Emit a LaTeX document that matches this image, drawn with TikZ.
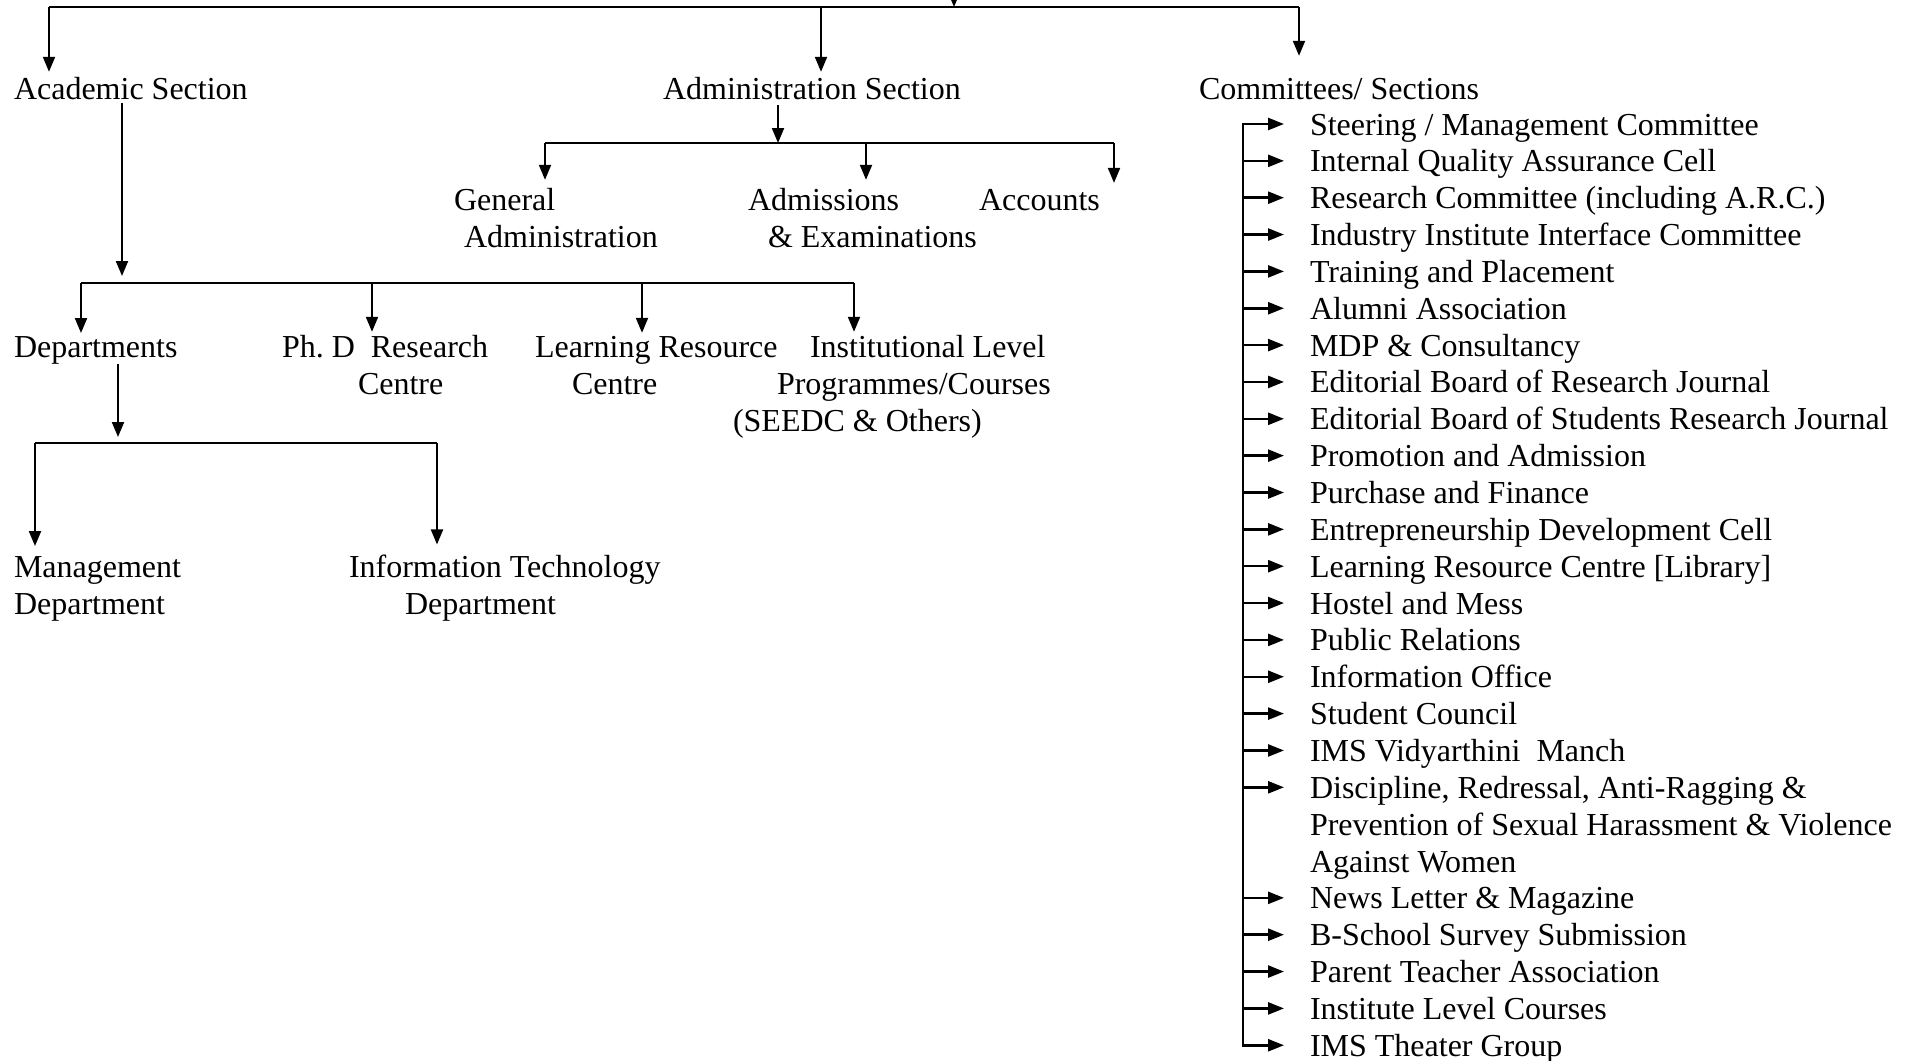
\documentclass[tikz,border=0pt]{standalone}
\usepackage{fontspec}
\setmainfont{Liberation Serif}
\usetikzlibrary{arrows.meta,calc}
\begin{document}
\begin{tikzpicture}[x=1pt,y=-1pt,
  lbl/.style={inner sep=0pt, outer sep=0pt, anchor=base west, font=\fontsize{32}{37}\selectfont\frenchspacing},
  ln/.style={line width=2pt},
  arr/.style={line width=2pt, -{Triangle[length=15pt,width=12pt]}},
  larr/.style={line width=2.5pt, -{Triangle[length=16pt,width=12pt]}}]
\useasboundingbox (0,0) rectangle (1913,1060);
% ---- nodes
\node[lbl] (acad) at (14,99) {Academic Section};
\node[lbl] (admin) at (663,99) {Administration Section};
\node[lbl] (comm) at (1199,99) {Committees/ Sections};
\node[lbl] (genadm) at (454,210) {\vtop{\hbox{General}\hbox{\hspace{10pt}Administration}}};
\node[lbl] (admexam) at (748,210) {\vtop{\hbox{Admissions}\hbox{\hspace{20pt}\& Examinations}}};
\node[lbl] (acct) at (979,210) {Accounts};
\node[lbl] (dept) at (14,357) {Departments};
\node[lbl] (phd) at (282,357) {\vtop{\hbox{Ph. D\ \ Research}\hbox{\hspace{76pt}Centre}}};
\node[lbl] (lrc) at (535,357) {\vtop{\hbox{Learning Resource}\hbox{\hspace{37pt}Centre}}};
\node[lbl] (inst) at (733,357) {\vtop{\hbox{\hspace{77pt}Institutional Level}\hbox{\hspace{44pt}Programmes/Courses}\hbox{(SEEDC \& Others)}}};
\node[lbl] (mgmt) at (14,577) {\vtop{\hbox{Management}\hbox{Department}}};
\node[lbl] (itd) at (349,577) {\vtop{\hbox{Information Technology}\hbox{\hspace{56pt}Department}}};
% committees list
\node[lbl] (c0) at (1310,{135+36.85*0}) {Steering / Management Committee};
\node[lbl] (c1) at (1310,{135+36.85*1}) {Internal Quality Assurance Cell};
\node[lbl] (c2) at (1310,{135+36.85*2}) {Research Committee (including A.R.C.)};
\node[lbl] (c3) at (1310,{135+36.85*3}) {Industry Institute Interface Committee};
\node[lbl] (c4) at (1310,{135+36.85*4}) {Training and Placement};
\node[lbl] (c5) at (1310,{135+36.85*5}) {Alumni Association};
\node[lbl] (c6) at (1310,{135+36.85*6}) {MDP \& Consultancy};
\node[lbl] (c7) at (1310,{135+36.85*7}) {Editorial Board of Research Journal};
\node[lbl] (c8) at (1310,{135+36.85*8}) {Editorial Board of Students Research Journal};
\node[lbl] (c9) at (1310,{135+36.85*9}) {Promotion and Admission};
\node[lbl] (c10) at (1310,{135+36.85*10}) {Purchase and Finance};
\node[lbl] (c11) at (1310,{135+36.85*11}) {Entrepreneurship Development Cell};
\node[lbl] (c12) at (1310,{135+36.85*12}) {Learning Resource Centre [Library]};
\node[lbl] (c13) at (1310,{135+36.85*13}) {Hostel and Mess};
\node[lbl] (c14) at (1310,{135+36.85*14}) {Public Relations};
\node[lbl] (c15) at (1310,{135+36.85*15}) {Information Office};
\node[lbl] (c16) at (1310,{135+36.85*16}) {Student Council};
\node[lbl] (c17) at (1310,{135+36.85*17}) {IMS Vidyarthini\ \ Manch};
\node[lbl] (c18) at (1310,{135+36.85*18}) {\vtop{\hbox{Discipline, Redressal, Anti-Ragging \&}\hbox{Prevention of Sexual Harassment \& Violence}\hbox{Against Women}}};
\node[lbl] (c21) at (1310,{135+36.85*21}) {News Letter \& Magazine};
\node[lbl] (c22) at (1310,{135+36.85*22}) {B-School Survey Submission};
\node[lbl] (c23) at (1310,{135+36.85*23}) {Parent Teacher Association};
\node[lbl] (c24) at (1310,{135+36.85*24}) {Institute Level Courses};
\node[lbl] (c25) at (1310,{135+36.85*25}) {IMS Theater Group};
% ---- top level connectors
\coordinate (tL) at (49,7);
\coordinate (tA) at (821,7);
\coordinate (tM) at (954,7);
\coordinate (tR) at (1299,7);
\coordinate (dirIn) at (954,-40);
\draw[ln] (tL) -- (tR);
\draw[arr] (dirIn) -- (tM);
\draw[arr, shorten >=5pt] (tL) -- (tL |- acad.north);
\draw[arr, shorten >=5pt] (tA) -- (tA |- admin.north);
\draw[arr, shorten >=22pt] (tR) -- (tR |- comm.north);
% ---- administration
\coordinate (aBar) at (778,143);
\coordinate (aL) at (545,143);
\coordinate (aM) at (866,143);
\coordinate (aR) at (1114,143);
\draw[arr, shorten <=6pt] (aBar |- admin.south) -- (aBar);
\draw[ln] (aL) -- (aR);
\draw[arr, shorten >=8pt] (aL) -- (aL |- genadm.north);
\draw[arr, shorten >=8pt] (aM) -- (aM |- admexam.north);
\draw[arr, shorten >=6pt] (aR) -- (aR |- acct.north);
% ---- academic
\coordinate (cBar) at (122,283);
\coordinate (cL) at (81,283);
\coordinate (cP) at (372,283);
\coordinate (cQ) at (642,283);
\coordinate (cI) at (854,283);
\draw[arr, shorten <=4pt, shorten >=7pt] (cBar |- acad.south) -- (cBar);
\draw[ln] (cL) -- (cI);
\draw[arr, shorten >=3pt] (cL) -- (cL |- dept.north);
\draw[arr, shorten >=3pt] (cP) -- (cP |- phd.north);
\draw[arr, shorten >=3pt] (cQ) -- (cQ |- lrc.north);
\draw[arr, shorten >=3pt] (cI) -- (cI |- inst.north);
% ---- departments
\coordinate (dBar) at (118,443);
\coordinate (dL) at (35,443);
\coordinate (dR) at (437,443);
\draw[arr, shorten <=0pt, shorten >=6pt] (dBar |- dept.south) -- (dBar);
\draw[ln] (dL) -- (dR);
\draw[arr, shorten >=10pt] (dL) -- (dL |- mgmt.north);
\draw[arr, shorten >=10pt] (dR) -- (dR |- itd.north);
% ---- committees list
\draw[line width=2.2pt] ($(c0.base west)+(-67,-11)$) -- ($(c25.base west)+(-67,-11)$);
\foreach \k in {0,...,18}
  \draw[larr] ($(c\k.base west)+(-68,-11)$) -- ($(c\k.base west)+(-26,-11)$);
\foreach \k in {21,...,25}
  \draw[larr] ($(c\k.base west)+(-68,-11)$) -- ($(c\k.base west)+(-26,-11)$);
\end{tikzpicture}
\end{document}
